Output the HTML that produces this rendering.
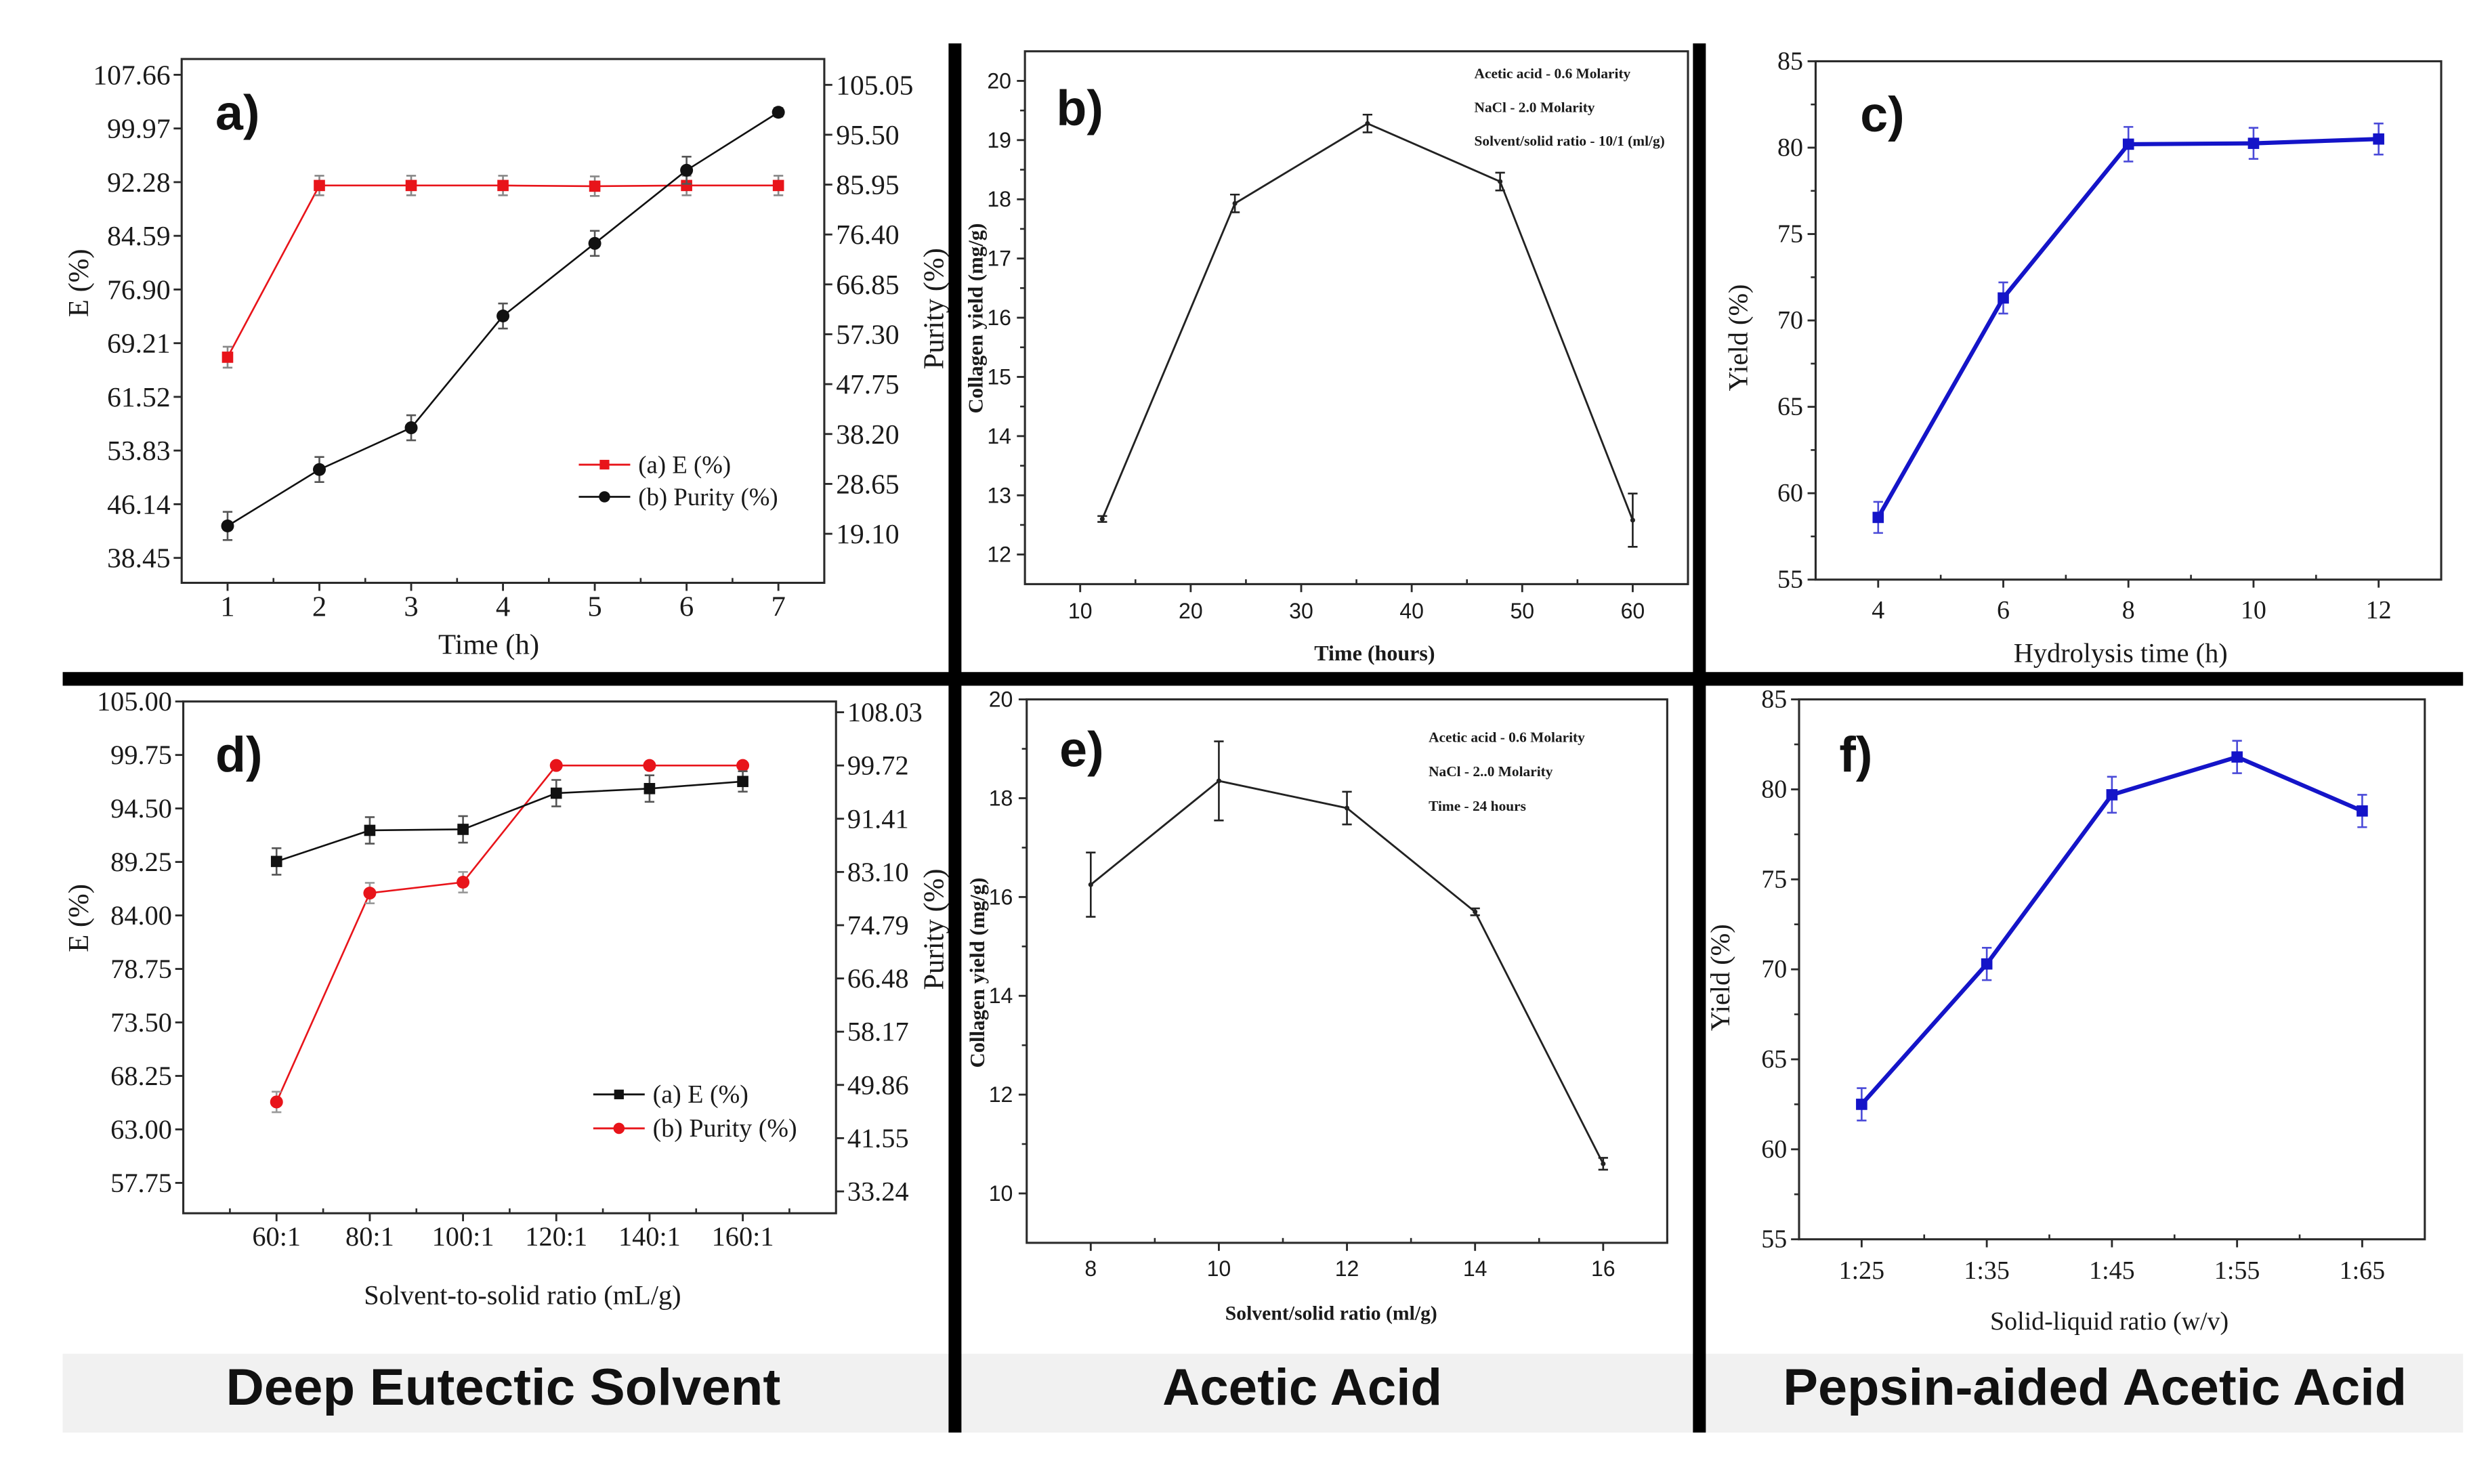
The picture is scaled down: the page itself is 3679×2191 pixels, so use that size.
<!DOCTYPE html>
<html><head><meta charset="utf-8"><title>Collagen extraction comparison</title>
<style>
html,body{margin:0;padding:0;background:#fff;}
svg{display:block;}
</style></head>
<body>
<svg id="chart" xmlns="http://www.w3.org/2000/svg" width="3679" height="2191" viewBox="0 0 1550 923" preserveAspectRatio="none">
  <rect x="0" y="0" width="1550" height="923" fill="#ffffff"/>
  <rect x="39" y="842" width="1493" height="49" fill="#f1f1f1"/>
</svg>
<script>
// ---------- DATA ----------
const aTime = [1, 2, 3, 4, 5, 6, 7];
const aE = [67.2, 91.8, 91.8, 91.8, 91.7, 91.8, 91.8];
const aEErr = [1.5, 1.4, 1.4, 1.4, 1.4, 1.4, 1.4];
const aPurity = [20.6, 31.4, 39.4, 60.8, 74.7, 88.7, 99.8];
const aPurityErr = [2.7, 2.4, 2.4, 2.4, 2.4, 2.6, 0.8];
const aLeftTicks = ['107.66','99.97','92.28','84.59','76.90','69.21','61.52','53.83','46.14','38.45'];
const aRightTicks = ['105.05','95.50','85.95','76.40','66.85','57.30','47.75','38.20','28.65','19.10'];
const aXTicks = ['1','2','3','4','5','6','7'];
const bTime = [12, 24, 36, 48, 60];
const bYield = [12.6, 17.93, 19.28, 18.3, 12.58];
const bErr = [0.05, 0.15, 0.15, 0.15, 0.45];
const bYTicks = ['12','13','14','15','16','17','18','19','20'];
const bXTicks = ['10','20','30','40','50','60'];
const cTime = [4, 6, 8, 10, 12];
const cYield = [58.6, 71.3, 80.2, 80.25, 80.5];
const cErr = [0.9, 0.9, 1.0, 0.9, 0.9];
const cYTicks = ['55','60','65','70','75','80','85'];
const cXTicks = ['4','6','8','10','12'];
const dRatio = ['60:1','80:1','100:1','120:1','140:1','160:1'];
const dE = [89.3, 92.35, 92.45, 96.0, 96.45, 97.15];
const dEErr = [1.3, 1.3, 1.3, 1.3, 1.3, 1.0];
const dPurity = [47.2, 79.8, 81.5, 99.72, 99.72, 99.72];
const dPurityErr = [1.6, 1.6, 1.6, 0.3, 0.3, 0.3];
const dLeftTicks = ['105.00','99.75','94.50','89.25','84.00','78.75','73.50','68.25','63.00','57.75'];
const dRightTicks = ['108.03','99.72','91.41','83.10','74.79','66.48','58.17','49.86','41.55','33.24'];
const eRatio = [8, 10, 12, 14, 16];
const eYield = [16.25, 18.35, 17.8, 15.7, 10.6];
const eErr = [0.65, 0.8, 0.33, 0.07, 0.12];
const eYTicks = ['10','12','14','16','18','20'];
const eXTicks = ['8','10','12','14','16'];
const fRatio = ['1:25','1:35','1:45','1:55','1:65'];
const fYield = [62.5, 70.3, 79.7, 81.8, 78.8];
const fErr = [0.9, 0.9, 1.0, 0.9, 0.9];
const fYTicks = ['55','60','65','70','75','80','85'];

// ---------- HELPERS ----------
const NS = 'http://www.w3.org/2000/svg';
const svg = document.getElementById('chart');
function mk(tag, attrs, parent) {
  const e = document.createElementNS(NS, tag);
  for (const k in attrs) e.setAttribute(k, attrs[k]);
  (parent || svg).appendChild(e);
  return e;
}
function lin(d0, d1, r0, r1) { return v => r0 + (v - d0) * (r1 - r0) / (d1 - d0); }
function txt(parent, x, y, s, size, fam, opts) {
  opts = opts || {};
  const t = mk('text', {x: x, y: y, 'font-size': size, 'font-family': fam,
    'text-anchor': opts.anchor || 'middle', 'dominant-baseline': opts.base || 'central',
    fill: opts.fill || '#1a1a1a', 'font-weight': opts.weight || 'normal'}, parent);
  if (opts.rotate) t.setAttribute('transform', 'rotate(-90 ' + x + ' ' + y + ')');
  if (opts.len) { t.setAttribute('textLength', opts.len); t.setAttribute('lengthAdjust', 'spacingAndGlyphs'); }
  t.textContent = s;
  return t;
}
const SERIF = '"Liberation Serif", "DejaVu Serif", serif';
const SANS = '"Liberation Sans", "DejaVu Sans", sans-serif';

function frame(g, box) {
  const r = mk('rect', {x: box[0], y: box[2], width: box[1] - box[0], height: box[3] - box[2], fill: 'none', stroke: '#2a2a2a', 'stroke-width': 1.3}, g);
  
  
}
function xAxis(g, box, sx, vals, labels, minors, fam, fs, ly) {
  vals.forEach((v, i) => {
    const x = sx(v);
    const t = mk('line', {x1: x, x2: x, y1: box[3], y2: box[3] + 5, stroke: '#2a2a2a', 'stroke-width': 1.2}, g);
    
    
    const l = txt(g, x, ly, labels[i], fs, fam);
    
    
  });
  minors.forEach(v => {
    const x = sx(v);
    const t = mk('line', {x1: x, x2: x, y1: box[3], y2: box[3] - 3, stroke: '#2a2a2a', 'stroke-width': 1.1}, g);
    
    
  });
}
function yAxis(g, box, sy, labels, minors, fam, fs, side, lx) {
  labels.forEach(s => {
    const y = sy(parseFloat(s));
    const x0 = side === 'left' ? box[0] : box[1];
    const dx = side === 'left' ? -5 : 5;
    const t = mk('line', {x1: x0, x2: x0 + dx, y1: y, y2: y, stroke: '#2a2a2a', 'stroke-width': 1.2}, g);
    
    
    const l = txt(g, lx, y, s, fs, fam, {anchor: side === 'left' ? 'end' : 'start'});
    
    
  });
  minors.forEach(v => {
    const y = sy(v);
    const x0 = side === 'left' ? box[0] : box[1];
    const dx = side === 'left' ? -3 : 3;
    const t = mk('line', {x1: x0, x2: x0 + dx, y1: y, y2: y, stroke: '#2a2a2a', 'stroke-width': 1.1}, g);
    
    
  });
}
function series(g, xs, ys, errs, sx, sy, color, marker, lw, ms, ecolor, name) {
  const pts = xs.map((x, i) => sx(x) + ',' + sy(ys[i])).join(' ');
  const pl = mk('polyline', {points: pts, fill: 'none', stroke: color, 'stroke-width': lw}, g);
  
  
  xs.forEach((x, i) => {
    const cx = sx(x), cy = sy(ys[i]);
    const y1 = sy(ys[i] + errs[i]), y2 = sy(ys[i] - errs[i]);
    const eb = mk('path', {d: 'M' + cx + ' ' + y1 + 'V' + y2 + 'M' + (cx - 3) + ' ' + y1 + 'H' + (cx + 3) + 'M' + (cx - 3) + ' ' + y2 + 'H' + (cx + 3), stroke: ecolor, 'stroke-width': 1.1, fill: 'none'}, g);
    
    
    let m;
    if (marker === 'square') m = mk('rect', {x: cx - ms / 2, y: cy - ms / 2, width: ms, height: ms, fill: color}, g);
    else m = mk('circle', {cx: cx, cy: cy, r: ms / 2, fill: color}, g);
    
    
  });
}
function legendRow(g, x0, x1, y, color, marker, ms, label, fs) {
  const l = mk('line', {x1: x0, x2: x1, y1: y, y2: y, stroke: color, 'stroke-width': 1.2}, g);
  
  
  const cx = (x0 + x1) / 2;
  let m;
  if (marker === 'square') m = mk('rect', {x: cx - ms / 2, y: y - ms / 2, width: ms, height: ms, fill: color}, g);
  else m = mk('circle', {cx: cx, cy: y, r: ms / 2, fill: color}, g);
  
  
  const t = txt(g, x1 + 5, y, label, fs, SERIF, {anchor: 'start'});
  
  
}
function range(a, b, s) { const r = []; for (let v = a; v <= b + 1e-9; v += s) r.push(+v.toFixed(4)); return r; }
function group(name) {
  const g = mk('g', {});
  
  
  return g;
}
function letter(g, x, y, s) {
  const t = txt(g, x, y, s, 31, SANS, {anchor: 'start', weight: 'bold', fill: '#111'});
  
  
}

// ---------- PANEL A ----------
(function () {
  const g = group('panel-a');
  const box = [113, 512.7, 36.7, 362.5];
  const sx = lin(0.5, 7.5, box[0], box[1]);
  const sy = lin(34.88, 109.92, box[3], box[2]);
  const sy2 = lin(9.71, 110.0, box[3], box[2]);
  frame(g, box);
  xAxis(g, box, sx, aTime, aXTicks, range(1.5, 7, 1), SERIF, 18, 377.5);
  yAxis(g, box, sy, aLeftTicks, [], SERIF, 17.5, 'left', 106);
  yAxis(g, box, sy2, aRightTicks, [], SERIF, 17.5, 'right', 520);
  series(g, aTime, aE, aEErr, sx, sy, '#e8141a', 'square', 1.1, 7, '#888', 'e-series');
  series(g, aTime, aPurity, aPurityErr, sx, sy2, '#111', 'circle', 1.1, 8, '#555', 'purity-series');
  legendRow(g, 360, 392, 289, '#e8141a', 'square', 6, '(a) E (%)', 15.5);
  legendRow(g, 360, 392, 309, '#111', 'circle', 7, '(b) Purity (%)', 15.5);
  let t = txt(g, 304, 401, 'Time (h)', 18, SERIF);
  
  
  t = txt(g, 49, 176, 'E (%)', 18, SERIF, {rotate: true});
  
  
  t = txt(g, 581, 192, 'Purity (%)', 18, SERIF, {rotate: true});
  
  
  letter(g, 134, 70, 'a)');
})();

// ---------- PANEL B ----------
(function () {
  const g = group('panel-b');
  const box = [637.5, 1049.9, 31.9, 363.3];
  const sx = lin(5, 65, box[0], box[1]);
  const sy = lin(11.5, 20.5, box[3], box[2]);
  frame(g, box);
  xAxis(g, box, sx, bXTicks.map(Number), bXTicks, range(15, 65, 10), SANS, 13.5, 380);
  yAxis(g, box, sy, bYTicks, range(12.5, 19.5, 1), SANS, 13.5, 'left', 629);
  series(g, bTime, bYield, bErr, sx, sy, '#222', 'dot', 1.2, 3, '#222', 'yield-series');
  ['Acetic acid - 0.6 Molarity', 'NaCl - 2.0 Molarity', 'Solvent/solid ratio - 10/1 (ml/g)'].forEach((s, i) => {
    const t = txt(g, 917, 45.7 + i * 21, s, 9, SERIF, {anchor: 'start', weight: 'bold'});
    
    
  });
  let t = txt(g, 855, 406, 'Time (hours)', 13.5, SERIF, {weight: 'bold'});
  
  
  t = txt(g, 607, 198, 'Collagen yield (mg/g)', 13, SERIF, {rotate: true, weight: 'bold'});
  
  
  letter(g, 657, 67, 'b)');
})();

// ---------- PANEL C ----------
(function () {
  const g = group('panel-c');
  const box = [1129.3, 1518.4, 38.1, 360.5];
  const sx = lin(3, 13, box[0], box[1]);
  const sy = lin(55, 85, box[3], box[2]);
  frame(g, box);
  xAxis(g, box, sx, cXTicks.map(Number), cXTicks, range(5, 13, 2), SERIF, 16, 379.5);
  yAxis(g, box, sy, cYTicks, range(57.5, 82.5, 5), SERIF, 16, 'left', 1121.5);
  series(g, cTime, cYield, cErr, sx, sy, '#1414c8', 'square', 2.6, 7, '#4a4ad8', 'yield-series');
  let t = txt(g, 1319, 406, 'Hydrolysis time (h)', 17, SERIF);
  
  
  t = txt(g, 1081, 210, 'Yield (%)', 17, SERIF, {rotate: true});
  
  
  letter(g, 1157, 71, 'c)');
})();

// ---------- PANEL D ----------
(function () {
  const g = group('panel-d');
  const box = [114, 520, 436.3, 754.6];
  const idx = dRatio.map((_, i) => i);
  const sx = lin(-1, 6, box[0], box[1]);
  const sy = lin(54.77, 105, box[3], box[2]);
  const sy2 = lin(29.83, 109.71, box[3], box[2]);
  frame(g, box);
  xAxis(g, box, sx, idx, dRatio, range(-0.5, 5.5, 1), SERIF, 17, 769);
  yAxis(g, box, sy, dLeftTicks, [], SERIF, 17, 'left', 107);
  yAxis(g, box, sy2, dRightTicks, [], SERIF, 17, 'right', 527);
  series(g, idx, dPurity, dPurityErr, sx, sy2, '#e8141a', 'circle', 1.1, 8, '#999', 'purity-series');
  series(g, idx, dE, dEErr, sx, sy, '#111', 'square', 1.1, 7, '#555', 'e-series');
  legendRow(g, 369, 401, 680.7, '#111', 'square', 6, '(a) E (%)', 16);
  legendRow(g, 369, 401, 701.8, '#e8141a', 'circle', 7, '(b) Purity (%)', 16);
  let t = txt(g, 325, 805.5, 'Solvent-to-solid ratio (mL/g)', 17, SERIF);
  
  
  t = txt(g, 49, 571, 'E (%)', 18, SERIF, {rotate: true});
  
  
  t = txt(g, 581, 578, 'Purity (%)', 18, SERIF, {rotate: true});
  
  
  letter(g, 134, 469, 'd)');
})();

// ---------- PANEL E ----------
(function () {
  const g = group('panel-e');
  const box = [638.6, 1037, 435, 773];
  const sx = lin(7, 17, box[0], box[1]);
  const sy = lin(9, 20, box[3], box[2]);
  frame(g, box);
  xAxis(g, box, sx, eXTicks.map(Number), eXTicks, range(9, 17, 2), SANS, 13.5, 789);
  yAxis(g, box, sy, eYTicks, range(11, 19, 2), SANS, 13.5, 'left', 630);
  series(g, eRatio, eYield, eErr, sx, sy, '#222', 'dot', 1.2, 3, '#222', 'yield-series');
  ['Acetic acid - 0.6 Molarity', 'NaCl - 2..0 Molarity', 'Time - 24 hours'].forEach((s, i) => {
    const t = txt(g, 888.6, 458.5 + i * 21.4, s, 9, SERIF, {anchor: 'start', weight: 'bold'});
    
    
  });
  let t = txt(g, 828, 817, 'Solvent/solid ratio (ml/g)', 12.5, SERIF, {weight: 'bold'});
  
  
  t = txt(g, 608, 605, 'Collagen yield (mg/g)', 13, SERIF, {rotate: true, weight: 'bold'});
  
  
  letter(g, 659, 466, 'e)');
})();

// ---------- PANEL F ----------
(function () {
  const g = group('panel-f');
  const box = [1119, 1508.2, 435, 770.8];
  const idx = fRatio.map((_, i) => i);
  const sx = lin(-0.5, 4.5, box[0], box[1]);
  const sy = lin(55, 85, box[3], box[2]);
  frame(g, box);
  xAxis(g, box, sx, idx, fRatio, range(0.5, 3.5, 1), SERIF, 16, 790.4);
  yAxis(g, box, sy, fYTicks, range(57.5, 82.5, 5), SERIF, 16, 'left', 1111.5);
  series(g, idx, fYield, fErr, sx, sy, '#1414c8', 'square', 2.6, 7, '#4a4ad8', 'yield-series');
  let t = txt(g, 1312, 822, 'Solid-liquid ratio (w/v)', 16, SERIF);
  
  
  t = txt(g, 1070, 608, 'Yield (%)', 17, SERIF, {rotate: true});
  
  
  letter(g, 1144, 469, 'f)');
})();

// ---------- DIVIDERS & TITLES ----------
(function () {
  const g = group('dividers');
  let r = mk('rect', {x: 39, y: 418, width: 1493, height: 8.5, fill: '#000'}, g);
  
  
  r = mk('rect', {x: 590, y: 27, width: 8, height: 864, fill: '#000'}, g);
  
  
  r = mk('rect', {x: 1053, y: 27, width: 8, height: 864, fill: '#000'}, g);
  
  
  const titles = [['Deep Eutectic Solvent', 313, 345], ['Acetic Acid', 810, 174], ['Pepsin-aided Acetic Acid', 1303, 388]];
  titles.forEach(tt => {
    const t = txt(g, tt[1], 863, tt[0], 32, SANS, {weight: 'bold', fill: '#111', len: tt[2]});
    
    
  });
})();
</script>
</body></html>
